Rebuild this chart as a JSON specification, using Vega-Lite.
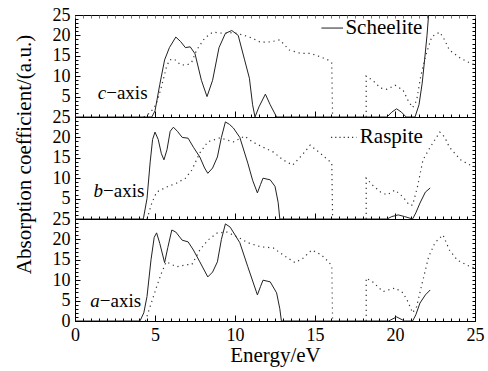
{
  "$schema": "https://vega.github.io/schema/vega-lite/v6.json",
  "padding": {"left": 12, "top": 5, "right": 4, "bottom": 4},
  "spacing": 0,
  "bounds": "flush",
  "config": {
    "font": "Times New Roman, Times, serif",
    "view": {"stroke": "#000", "strokeWidth": 1},
    "concat": {"spacing": 0},
    "text": {"font": "Times New Roman, Times, serif"},
    "axis": {"domain": false, "grid": false, "labelFont": "Times New Roman, Times, serif", "labelFontSize": 18, "labelColor": "#000", "tickColor": "#000", "titleFont": "Times New Roman, Times, serif", "titleFontSize": 21, "titleFontWeight": "normal", "titleColor": "#000", "labelFlush": false, "labelOverlap": false, "tickWidth": 1}
  },
  "datasets": {
    "curves": [
      {"panel":"c","mat":"Scheelite","seg":1,"E":0,"v":0},{"panel":"c","mat":"Scheelite","seg":1,"E":4.8,"v":0},{"panel":"c","mat":"Scheelite","seg":1,"E":5.0,"v":1.5},{"panel":"c","mat":"Scheelite","seg":1,"E":5.3,"v":8},{"panel":"c","mat":"Scheelite","seg":1,"E":5.6,"v":14},{"panel":"c","mat":"Scheelite","seg":1,"E":5.9,"v":17},{"panel":"c","mat":"Scheelite","seg":1,"E":6.3,"v":19.6},{"panel":"c","mat":"Scheelite","seg":1,"E":6.6,"v":18.5},{"panel":"c","mat":"Scheelite","seg":1,"E":6.9,"v":17},{"panel":"c","mat":"Scheelite","seg":1,"E":7.2,"v":17.2},{"panel":"c","mat":"Scheelite","seg":1,"E":7.5,"v":15.5},{"panel":"c","mat":"Scheelite","seg":1,"E":7.9,"v":9},{"panel":"c","mat":"Scheelite","seg":1,"E":8.25,"v":5},{"panel":"c","mat":"Scheelite","seg":1,"E":8.6,"v":9},{"panel":"c","mat":"Scheelite","seg":1,"E":9.0,"v":17},{"panel":"c","mat":"Scheelite","seg":1,"E":9.4,"v":20.5},{"panel":"c","mat":"Scheelite","seg":1,"E":9.8,"v":21.2},{"panel":"c","mat":"Scheelite","seg":1,"E":10.2,"v":20},{"panel":"c","mat":"Scheelite","seg":1,"E":10.6,"v":14},{"panel":"c","mat":"Scheelite","seg":1,"E":10.9,"v":9.5},{"panel":"c","mat":"Scheelite","seg":1,"E":11.1,"v":3},{"panel":"c","mat":"Scheelite","seg":1,"E":11.25,"v":0},{"panel":"c","mat":"Scheelite","seg":1,"E":11.5,"v":2.5},{"panel":"c","mat":"Scheelite","seg":1,"E":11.9,"v":5.6},{"panel":"c","mat":"Scheelite","seg":1,"E":12.2,"v":3},{"panel":"c","mat":"Scheelite","seg":1,"E":12.6,"v":0},{"panel":"c","mat":"Scheelite","seg":1,"E":19.5,"v":0},{"panel":"c","mat":"Scheelite","seg":1,"E":19.8,"v":1.2},{"panel":"c","mat":"Scheelite","seg":1,"E":20.1,"v":2},{"panel":"c","mat":"Scheelite","seg":1,"E":20.4,"v":1.2},{"panel":"c","mat":"Scheelite","seg":1,"E":20.7,"v":0},{"panel":"c","mat":"Scheelite","seg":1,"E":21.25,"v":0},{"panel":"c","mat":"Scheelite","seg":1,"E":21.5,"v":3},{"panel":"c","mat":"Scheelite","seg":1,"E":21.7,"v":8.3},{"panel":"c","mat":"Scheelite","seg":1,"E":21.85,"v":14},{"panel":"c","mat":"Scheelite","seg":1,"E":22.0,"v":20},{"panel":"c","mat":"Scheelite","seg":1,"E":22.1,"v":25},{"panel":"c","mat":"Scheelite","seg":1,"E":22.3,"v":30},
      {"panel":"c","mat":"Raspite","seg":1,"E":4.3,"v":0},{"panel":"c","mat":"Raspite","seg":1,"E":4.6,"v":0.8},{"panel":"c","mat":"Raspite","seg":1,"E":4.9,"v":2},{"panel":"c","mat":"Raspite","seg":1,"E":5.1,"v":3.4},{"panel":"c","mat":"Raspite","seg":1,"E":5.4,"v":7.4},{"panel":"c","mat":"Raspite","seg":1,"E":5.7,"v":12},{"panel":"c","mat":"Raspite","seg":1,"E":5.9,"v":14},{"panel":"c","mat":"Raspite","seg":1,"E":6.2,"v":14.2},{"panel":"c","mat":"Raspite","seg":1,"E":6.6,"v":12.8},{"panel":"c","mat":"Raspite","seg":1,"E":7.0,"v":12.7},{"panel":"c","mat":"Raspite","seg":1,"E":7.3,"v":13.5},{"panel":"c","mat":"Raspite","seg":1,"E":7.6,"v":16.4},{"panel":"c","mat":"Raspite","seg":1,"E":8.1,"v":19.3},{"panel":"c","mat":"Raspite","seg":1,"E":8.6,"v":20.8},{"panel":"c","mat":"Raspite","seg":1,"E":9.3,"v":20.5},{"panel":"c","mat":"Raspite","seg":1,"E":9.9,"v":20.7},{"panel":"c","mat":"Raspite","seg":1,"E":10.5,"v":20.1},{"panel":"c","mat":"Raspite","seg":1,"E":11.1,"v":19.3},{"panel":"c","mat":"Raspite","seg":1,"E":11.6,"v":18.3},{"panel":"c","mat":"Raspite","seg":1,"E":12.2,"v":18.4},{"panel":"c","mat":"Raspite","seg":1,"E":12.8,"v":18.9},{"panel":"c","mat":"Raspite","seg":1,"E":13.4,"v":16.4},{"panel":"c","mat":"Raspite","seg":1,"E":14.1,"v":15.6},{"panel":"c","mat":"Raspite","seg":1,"E":14.7,"v":15.6},{"panel":"c","mat":"Raspite","seg":1,"E":15.3,"v":14.8},{"panel":"c","mat":"Raspite","seg":1,"E":15.8,"v":14},{"panel":"c","mat":"Raspite","seg":1,"E":16.05,"v":13.2},{"panel":"c","mat":"Raspite","seg":1,"E":16.1,"v":0},
      {"panel":"c","mat":"Raspite","seg":2,"E":18.2,"v":0},{"panel":"c","mat":"Raspite","seg":2,"E":18.2,"v":10},{"panel":"c","mat":"Raspite","seg":2,"E":18.6,"v":9},{"panel":"c","mat":"Raspite","seg":2,"E":19.1,"v":7.1},{"panel":"c","mat":"Raspite","seg":2,"E":19.5,"v":6.8},{"panel":"c","mat":"Raspite","seg":2,"E":20.0,"v":7.8},{"panel":"c","mat":"Raspite","seg":2,"E":20.5,"v":6.6},{"panel":"c","mat":"Raspite","seg":2,"E":20.8,"v":4.2},{"panel":"c","mat":"Raspite","seg":2,"E":21.1,"v":2.3},{"panel":"c","mat":"Raspite","seg":2,"E":21.35,"v":4},{"panel":"c","mat":"Raspite","seg":2,"E":21.6,"v":9.8},{"panel":"c","mat":"Raspite","seg":2,"E":21.9,"v":14.8},{"panel":"c","mat":"Raspite","seg":2,"E":22.3,"v":19.7},{"panel":"c","mat":"Raspite","seg":2,"E":22.8,"v":20.8},{"panel":"c","mat":"Raspite","seg":2,"E":23.1,"v":18.9},{"panel":"c","mat":"Raspite","seg":2,"E":23.4,"v":16.4},{"panel":"c","mat":"Raspite","seg":2,"E":24.1,"v":14.4},{"panel":"c","mat":"Raspite","seg":2,"E":24.7,"v":13.2},{"panel":"c","mat":"Raspite","seg":2,"E":25,"v":12.8},
      {"panel":"b","mat":"Scheelite","seg":1,"E":0,"v":0},{"panel":"b","mat":"Scheelite","seg":1,"E":4.27,"v":0},{"panel":"b","mat":"Scheelite","seg":1,"E":4.5,"v":5},{"panel":"b","mat":"Scheelite","seg":1,"E":4.7,"v":14},{"panel":"b","mat":"Scheelite","seg":1,"E":4.85,"v":19.5},{"panel":"b","mat":"Scheelite","seg":1,"E":5.0,"v":21.3},{"panel":"b","mat":"Scheelite","seg":1,"E":5.2,"v":19.5},{"panel":"b","mat":"Scheelite","seg":1,"E":5.4,"v":16},{"panel":"b","mat":"Scheelite","seg":1,"E":5.56,"v":14.5},{"panel":"b","mat":"Scheelite","seg":1,"E":5.75,"v":17},{"panel":"b","mat":"Scheelite","seg":1,"E":5.95,"v":21.5},{"panel":"b","mat":"Scheelite","seg":1,"E":6.15,"v":22.5},{"panel":"b","mat":"Scheelite","seg":1,"E":6.4,"v":21.5},{"panel":"b","mat":"Scheelite","seg":1,"E":6.7,"v":20},{"panel":"b","mat":"Scheelite","seg":1,"E":7.07,"v":19.8},{"panel":"b","mat":"Scheelite","seg":1,"E":7.4,"v":17.6},{"panel":"b","mat":"Scheelite","seg":1,"E":7.8,"v":15.2},{"panel":"b","mat":"Scheelite","seg":1,"E":8.1,"v":12.5},{"panel":"b","mat":"Scheelite","seg":1,"E":8.3,"v":11.2},{"panel":"b","mat":"Scheelite","seg":1,"E":8.6,"v":12.5},{"panel":"b","mat":"Scheelite","seg":1,"E":8.9,"v":15.2},{"panel":"b","mat":"Scheelite","seg":1,"E":9.15,"v":20},{"panel":"b","mat":"Scheelite","seg":1,"E":9.4,"v":23.8},{"panel":"b","mat":"Scheelite","seg":1,"E":9.65,"v":23.2},{"panel":"b","mat":"Scheelite","seg":1,"E":9.9,"v":22.3},{"panel":"b","mat":"Scheelite","seg":1,"E":10.3,"v":20},{"panel":"b","mat":"Scheelite","seg":1,"E":10.8,"v":13.7},{"panel":"b","mat":"Scheelite","seg":1,"E":11.1,"v":9.5},{"panel":"b","mat":"Scheelite","seg":1,"E":11.4,"v":6.4},{"panel":"b","mat":"Scheelite","seg":1,"E":11.6,"v":8.5},{"panel":"b","mat":"Scheelite","seg":1,"E":11.75,"v":10},{"panel":"b","mat":"Scheelite","seg":1,"E":12.2,"v":9.6},{"panel":"b","mat":"Scheelite","seg":1,"E":12.5,"v":8},{"panel":"b","mat":"Scheelite","seg":1,"E":12.7,"v":4},{"panel":"b","mat":"Scheelite","seg":1,"E":12.8,"v":0},{"panel":"b","mat":"Scheelite","seg":1,"E":19.5,"v":0},{"panel":"b","mat":"Scheelite","seg":1,"E":19.8,"v":0.6},{"panel":"b","mat":"Scheelite","seg":1,"E":20.2,"v":1},{"panel":"b","mat":"Scheelite","seg":1,"E":20.6,"v":0.6},{"panel":"b","mat":"Scheelite","seg":1,"E":21.1,"v":0},{"panel":"b","mat":"Scheelite","seg":1,"E":21.3,"v":1.5},{"panel":"b","mat":"Scheelite","seg":1,"E":21.56,"v":3.9},{"panel":"b","mat":"Scheelite","seg":1,"E":21.9,"v":6.6},{"panel":"b","mat":"Scheelite","seg":1,"E":22.2,"v":7.6},
      {"panel":"b","mat":"Raspite","seg":1,"E":4.5,"v":0},{"panel":"b","mat":"Raspite","seg":1,"E":4.8,"v":3.9},{"panel":"b","mat":"Raspite","seg":1,"E":5.1,"v":6.6},{"panel":"b","mat":"Raspite","seg":1,"E":5.7,"v":7.8},{"panel":"b","mat":"Raspite","seg":1,"E":6.35,"v":8.8},{"panel":"b","mat":"Raspite","seg":1,"E":6.9,"v":10},{"panel":"b","mat":"Raspite","seg":1,"E":7.3,"v":12},{"panel":"b","mat":"Raspite","seg":1,"E":7.8,"v":16.2},{"panel":"b","mat":"Raspite","seg":1,"E":8.3,"v":18.9},{"panel":"b","mat":"Raspite","seg":1,"E":9.06,"v":19.9},{"panel":"b","mat":"Raspite","seg":1,"E":9.9,"v":18.9},{"panel":"b","mat":"Raspite","seg":1,"E":10.6,"v":20.3},{"panel":"b","mat":"Raspite","seg":1,"E":11.1,"v":18.9},{"panel":"b","mat":"Raspite","seg":1,"E":11.75,"v":17.6},{"panel":"b","mat":"Raspite","seg":1,"E":12.4,"v":16.4},{"panel":"b","mat":"Raspite","seg":1,"E":13.0,"v":14.5},{"panel":"b","mat":"Raspite","seg":1,"E":13.6,"v":13.2},{"panel":"b","mat":"Raspite","seg":1,"E":14.2,"v":15.7},{"panel":"b","mat":"Raspite","seg":1,"E":14.7,"v":18.1},{"panel":"b","mat":"Raspite","seg":1,"E":15.3,"v":16.2},{"panel":"b","mat":"Raspite","seg":1,"E":15.8,"v":14.5},{"panel":"b","mat":"Raspite","seg":1,"E":16.05,"v":13.7},{"panel":"b","mat":"Raspite","seg":1,"E":16.1,"v":0},
      {"panel":"b","mat":"Raspite","seg":2,"E":18.2,"v":0},{"panel":"b","mat":"Raspite","seg":2,"E":18.2,"v":10},{"panel":"b","mat":"Raspite","seg":2,"E":18.6,"v":8.3},{"panel":"b","mat":"Raspite","seg":2,"E":19.1,"v":6.6},{"panel":"b","mat":"Raspite","seg":2,"E":19.5,"v":5.9},{"panel":"b","mat":"Raspite","seg":2,"E":20.0,"v":7.1},{"panel":"b","mat":"Raspite","seg":2,"E":20.5,"v":5.4},{"panel":"b","mat":"Raspite","seg":2,"E":20.9,"v":3.4},{"panel":"b","mat":"Raspite","seg":2,"E":21.1,"v":3.4},{"panel":"b","mat":"Raspite","seg":2,"E":21.4,"v":7.8},{"panel":"b","mat":"Raspite","seg":2,"E":21.75,"v":14.5},{"panel":"b","mat":"Raspite","seg":2,"E":22.2,"v":17.6},{"panel":"b","mat":"Raspite","seg":2,"E":22.8,"v":21.3},{"panel":"b","mat":"Raspite","seg":2,"E":23.1,"v":20.1},{"panel":"b","mat":"Raspite","seg":2,"E":23.4,"v":17.6},{"panel":"b","mat":"Raspite","seg":2,"E":24.1,"v":14.5},{"panel":"b","mat":"Raspite","seg":2,"E":24.7,"v":13.2},{"panel":"b","mat":"Raspite","seg":2,"E":25,"v":12.8},
      {"panel":"a","mat":"Scheelite","seg":1,"E":0,"v":0},{"panel":"a","mat":"Scheelite","seg":1,"E":4.06,"v":0},{"panel":"a","mat":"Scheelite","seg":1,"E":4.3,"v":2},{"panel":"a","mat":"Scheelite","seg":1,"E":4.5,"v":6},{"panel":"a","mat":"Scheelite","seg":1,"E":4.75,"v":15},{"panel":"a","mat":"Scheelite","seg":1,"E":4.95,"v":20.5},{"panel":"a","mat":"Scheelite","seg":1,"E":5.1,"v":21.6},{"panel":"a","mat":"Scheelite","seg":1,"E":5.3,"v":19},{"panel":"a","mat":"Scheelite","seg":1,"E":5.6,"v":14.3},{"panel":"a","mat":"Scheelite","seg":1,"E":5.8,"v":18},{"panel":"a","mat":"Scheelite","seg":1,"E":6.05,"v":22.3},{"panel":"a","mat":"Scheelite","seg":1,"E":6.3,"v":21.8},{"panel":"a","mat":"Scheelite","seg":1,"E":6.7,"v":19.8},{"panel":"a","mat":"Scheelite","seg":1,"E":7.07,"v":19.4},{"panel":"a","mat":"Scheelite","seg":1,"E":7.4,"v":17.4},{"panel":"a","mat":"Scheelite","seg":1,"E":7.8,"v":14.5},{"panel":"a","mat":"Scheelite","seg":1,"E":8.3,"v":10.8},{"panel":"a","mat":"Scheelite","seg":1,"E":8.6,"v":12},{"panel":"a","mat":"Scheelite","seg":1,"E":8.9,"v":14.5},{"panel":"a","mat":"Scheelite","seg":1,"E":9.15,"v":20},{"panel":"a","mat":"Scheelite","seg":1,"E":9.4,"v":23.8},{"panel":"a","mat":"Scheelite","seg":1,"E":9.7,"v":23},{"panel":"a","mat":"Scheelite","seg":1,"E":10.3,"v":19.2},{"panel":"a","mat":"Scheelite","seg":1,"E":10.8,"v":13.3},{"panel":"a","mat":"Scheelite","seg":1,"E":11.4,"v":6.4},{"panel":"a","mat":"Scheelite","seg":1,"E":11.6,"v":8.5},{"panel":"a","mat":"Scheelite","seg":1,"E":11.75,"v":10},{"panel":"a","mat":"Scheelite","seg":1,"E":12.2,"v":9.6},{"panel":"a","mat":"Scheelite","seg":1,"E":12.6,"v":6.9},{"panel":"a","mat":"Scheelite","seg":1,"E":12.8,"v":3},{"panel":"a","mat":"Scheelite","seg":1,"E":12.9,"v":0},{"panel":"a","mat":"Scheelite","seg":1,"E":19.6,"v":0},{"panel":"a","mat":"Scheelite","seg":1,"E":20.1,"v":1},{"panel":"a","mat":"Scheelite","seg":1,"E":20.6,"v":0},{"panel":"a","mat":"Scheelite","seg":1,"E":21.1,"v":0},{"panel":"a","mat":"Scheelite","seg":1,"E":21.3,"v":1.5},{"panel":"a","mat":"Scheelite","seg":1,"E":21.56,"v":4.4},{"panel":"a","mat":"Scheelite","seg":1,"E":21.9,"v":6.4},{"panel":"a","mat":"Scheelite","seg":1,"E":22.2,"v":7.6},
      {"panel":"a","mat":"Raspite","seg":1,"E":4.4,"v":0},{"panel":"a","mat":"Raspite","seg":1,"E":4.8,"v":4.8},{"panel":"a","mat":"Raspite","seg":1,"E":5.1,"v":8.4},{"panel":"a","mat":"Raspite","seg":1,"E":5.4,"v":11.7},{"panel":"a","mat":"Raspite","seg":1,"E":5.7,"v":14.5},{"panel":"a","mat":"Raspite","seg":1,"E":6.35,"v":13.3},{"panel":"a","mat":"Raspite","seg":1,"E":7.0,"v":13.8},{"panel":"a","mat":"Raspite","seg":1,"E":7.3,"v":13.8},{"panel":"a","mat":"Raspite","seg":1,"E":7.8,"v":17.4},{"panel":"a","mat":"Raspite","seg":1,"E":8.3,"v":19.8},{"panel":"a","mat":"Raspite","seg":1,"E":8.9,"v":21.6},{"panel":"a","mat":"Raspite","seg":1,"E":9.5,"v":21.8},{"panel":"a","mat":"Raspite","seg":1,"E":10.3,"v":20.3},{"panel":"a","mat":"Raspite","seg":1,"E":10.8,"v":19.2},{"panel":"a","mat":"Raspite","seg":1,"E":11.6,"v":18.2},{"panel":"a","mat":"Raspite","seg":1,"E":12.4,"v":17.9},{"panel":"a","mat":"Raspite","seg":1,"E":13.0,"v":16.2},{"panel":"a","mat":"Raspite","seg":1,"E":13.75,"v":14.3},{"panel":"a","mat":"Raspite","seg":1,"E":14.25,"v":15.4},{"panel":"a","mat":"Raspite","seg":1,"E":14.8,"v":17.4},{"panel":"a","mat":"Raspite","seg":1,"E":15.4,"v":16.2},{"panel":"a","mat":"Raspite","seg":1,"E":15.9,"v":14.3},{"panel":"a","mat":"Raspite","seg":1,"E":16.05,"v":13.3},{"panel":"a","mat":"Raspite","seg":1,"E":16.1,"v":0},
      {"panel":"a","mat":"Raspite","seg":2,"E":18.2,"v":0},{"panel":"a","mat":"Raspite","seg":2,"E":18.2,"v":10.5},{"panel":"a","mat":"Raspite","seg":2,"E":18.6,"v":9.6},{"panel":"a","mat":"Raspite","seg":2,"E":19.25,"v":7.2},{"panel":"a","mat":"Raspite","seg":2,"E":20.0,"v":8.1},{"panel":"a","mat":"Raspite","seg":2,"E":20.5,"v":6.9},{"panel":"a","mat":"Raspite","seg":2,"E":20.8,"v":4.8},{"panel":"a","mat":"Raspite","seg":2,"E":21.1,"v":2},{"panel":"a","mat":"Raspite","seg":2,"E":21.35,"v":3.5},{"panel":"a","mat":"Raspite","seg":2,"E":21.7,"v":9.3},{"panel":"a","mat":"Raspite","seg":2,"E":22.1,"v":15.7},{"panel":"a","mat":"Raspite","seg":2,"E":22.5,"v":19.2},{"panel":"a","mat":"Raspite","seg":2,"E":23.0,"v":21.1},{"panel":"a","mat":"Raspite","seg":2,"E":23.4,"v":17.4},{"panel":"a","mat":"Raspite","seg":2,"E":23.9,"v":14.9},{"panel":"a","mat":"Raspite","seg":2,"E":24.7,"v":13.3},{"panel":"a","mat":"Raspite","seg":2,"E":25,"v":13}
    ]
  },
  "vconcat": [
    {
      "width": 400, "height": 102,
      "resolve": {"axis": {"x": "independent", "y": "independent"}},
      "layer": [
        {
          "data": {"name": "curves"},
          "transform": [{"filter": "datum.panel === 'c' && datum.mat === 'Scheelite'"}],
          "mark": {"type": "line", "clip": true, "stroke": "#222", "strokeWidth": 1},
          "encoding": {
            "x": {"field": "E", "type": "quantitative", "scale": {"domain": [0, 25], "nice": false}, "axis": {"orient": "bottom", "title": null, "labels": false, "values": [0,5,10,15,20,25], "tickSize": 6, "offset": -6}},
            "y": {"field": "v", "type": "quantitative", "scale": {"domain": [0, 25], "nice": false}, "axis": {"orient": "left", "title": null, "values": [0,5,10,15,20,25], "labelExpr": "datum.value > 0 ? datum.label : ''", "labelPadding": 5, "tickSize": 5, "offset": -5, "labelFont": "Times New Roman, Times, serif"}},
            "detail": {"field": "seg"},
            "order": {"value": null}
          }
        },
        {
          "data": {"name": "curves"},
          "transform": [{"filter": "datum.panel === 'c' && datum.mat === 'Raspite'"}],
          "mark": {"type": "line", "clip": true, "stroke": "#333", "strokeWidth": 1.2, "strokeDash": [1.2, 3.8]},
          "encoding": {
            "x": {"field": "E", "type": "quantitative", "scale": {"domain": [0, 25], "nice": false}, "axis": {"orient": "bottom", "title": null, "labels": false, "values": [0,0.5,1,1.5,2,2.5,3,3.5,4,4.5,5,5.5,6,6.5,7,7.5,8,8.5,9,9.5,10,10.5,11,11.5,12,12.5,13,13.5,14,14.5,15,15.5,16,16.5,17,17.5,18,18.5,19,19.5,20,20.5,21,21.5,22,22.5,23,23.5,24,24.5,25], "tickSize": 3, "offset": -3}},
            "y": {"field": "v", "type": "quantitative", "scale": {"domain": [0, 25], "nice": false}, "axis": {"orient": "left", "title": null, "labels": false, "values": [0,1,2,3,4,5,6,7,8,9,10,11,12,13,14,15,16,17,18,19,20,21,22,23,24,25], "tickSize": 3, "offset": -3}},
            "detail": {"field": "seg"},
            "order": {"value": null}
          }
        },
        {
          "data": {"values": [{}]},
          "mark": {"type": "text", "align": "right", "baseline": "middle", "fontSize": 19, "fontStyle": "italic", "font": "Times New Roman, Times, serif", "text": "c"},
          "encoding": {
            "x": {"datum": 1.95, "type": "quantitative", "axis": {"orient": "top", "title": null, "labels": false, "values": [0,0.5,1,1.5,2,2.5,3,3.5,4,4.5,5,5.5,6,6.5,7,7.5,8,8.5,9,9.5,10,10.5,11,11.5,12,12.5,13,13.5,14,14.5,15,15.5,16,16.5,17,17.5,18,18.5,19,19.5,20,20.5,21,21.5,22,22.5,23,23.5,24,24.5,25], "tickSize": 3, "offset": -3, "tickColor": "#777"}},
            "y": {"datum": 6, "type": "quantitative", "axis": {"orient": "right", "title": null, "labels": false, "values": [0,1,2,3,4,5,6,7,8,9,10,11,12,13,14,15,16,17,18,19,20,21,22,23,24,25], "tickSize": 3, "offset": -3}}
          }
        },
        {
          "data": {"values": [{}]},
          "mark": {"type": "text", "align": "left", "baseline": "middle", "fontSize": 19, "font": "Times New Roman, Times, serif", "text": "−axis"},
          "encoding": {"x": {"datum": 1.95, "type": "quantitative", "axis": null}, "y": {"datum": 6, "type": "quantitative", "axis": null}}
        },
        {
          "data": {"values": [{}]},
          "mark": {"type": "rule", "stroke": "#222", "strokeWidth": 1},
          "encoding": {"x": {"datum": 15.4, "type": "quantitative", "axis": null}, "x2": {"datum": 16.75}, "y": {"datum": 21.8, "type": "quantitative", "axis": null}}
        },
        {
          "data": {"values": [{}]},
          "mark": {"type": "text", "align": "left", "baseline": "middle", "fontSize": 21, "font": "Times New Roman, Times, serif", "text": "Scheelite"},
          "encoding": {"x": {"datum": 16.9, "type": "quantitative", "axis": null}, "y": {"datum": 21.8, "type": "quantitative", "axis": null}}
        }
      ]
    },
    {
      "width": 400, "height": 102,
      "resolve": {"axis": {"x": "independent", "y": "independent"}},
      "layer": [
        {
          "data": {"name": "curves"},
          "transform": [{"filter": "datum.panel === 'b' && datum.mat === 'Scheelite'"}],
          "mark": {"type": "line", "clip": true, "stroke": "#222", "strokeWidth": 1},
          "encoding": {
            "x": {"field": "E", "type": "quantitative", "scale": {"domain": [0, 25], "nice": false}, "axis": {"orient": "bottom", "title": null, "labels": false, "values": [0,5,10,15,20,25], "tickSize": 6, "offset": -6}},
            "y": {"field": "v", "type": "quantitative", "scale": {"domain": [0, 25], "nice": false}, "axis": {"orient": "left", "title": "Absorption coefficient/(a.u.)", "titlePadding": 18, "titleY": 37, "values": [0,5,10,15,20,25], "labelExpr": "datum.value > 0 ? datum.label : ''", "labelPadding": 5, "tickSize": 5, "offset": -5, "labelFont": "Times New Roman, Times, serif"}},
            "detail": {"field": "seg"},
            "order": {"value": null}
          }
        },
        {
          "data": {"name": "curves"},
          "transform": [{"filter": "datum.panel === 'b' && datum.mat === 'Raspite'"}],
          "mark": {"type": "line", "clip": true, "stroke": "#333", "strokeWidth": 1.2, "strokeDash": [1.2, 3.8]},
          "encoding": {
            "x": {"field": "E", "type": "quantitative", "scale": {"domain": [0, 25], "nice": false}, "axis": {"orient": "bottom", "title": null, "labels": false, "values": [0,0.5,1,1.5,2,2.5,3,3.5,4,4.5,5,5.5,6,6.5,7,7.5,8,8.5,9,9.5,10,10.5,11,11.5,12,12.5,13,13.5,14,14.5,15,15.5,16,16.5,17,17.5,18,18.5,19,19.5,20,20.5,21,21.5,22,22.5,23,23.5,24,24.5,25], "tickSize": 3, "offset": -3}},
            "y": {"field": "v", "type": "quantitative", "scale": {"domain": [0, 25], "nice": false}, "axis": {"orient": "left", "title": null, "labels": false, "values": [0,1,2,3,4,5,6,7,8,9,10,11,12,13,14,15,16,17,18,19,20,21,22,23,24,25], "tickSize": 3, "offset": -3}},
            "detail": {"field": "seg"},
            "order": {"value": null}
          }
        },
        {
          "data": {"values": [{}]},
          "mark": {"type": "text", "align": "right", "baseline": "middle", "fontSize": 19, "fontStyle": "italic", "font": "Times New Roman, Times, serif", "text": "b"},
          "encoding": {
            "x": {"datum": 1.75, "type": "quantitative", "axis": null},
            "y": {"datum": 6.9, "type": "quantitative", "axis": {"orient": "right", "title": null, "labels": false, "values": [0,1,2,3,4,5,6,7,8,9,10,11,12,13,14,15,16,17,18,19,20,21,22,23,24,25], "tickSize": 3, "offset": -3}}
          }
        },
        {
          "data": {"values": [{}]},
          "mark": {"type": "text", "align": "left", "baseline": "middle", "fontSize": 19, "font": "Times New Roman, Times, serif", "text": "−axis"},
          "encoding": {"x": {"datum": 1.75, "type": "quantitative", "axis": null}, "y": {"datum": 6.9, "type": "quantitative", "axis": null}}
        },
        {
          "data": {"values": [{}]},
          "mark": {"type": "rule", "stroke": "#333", "strokeWidth": 1.2, "strokeDash": [1.2, 3]},
          "encoding": {"x": {"datum": 16.0, "type": "quantitative", "axis": null}, "x2": {"datum": 17.6}, "y": {"datum": 20, "type": "quantitative", "axis": null}}
        },
        {
          "data": {"values": [{}]},
          "mark": {"type": "text", "align": "left", "baseline": "middle", "fontSize": 21, "font": "Times New Roman, Times, serif", "text": "Raspite"},
          "encoding": {"x": {"datum": 17.8, "type": "quantitative", "axis": null}, "y": {"datum": 20, "type": "quantitative", "axis": null}}
        }
      ]
    },
    {
      "width": 400, "height": 102,
      "resolve": {"axis": {"x": "independent", "y": "independent"}},
      "layer": [
        {
          "data": {"name": "curves"},
          "transform": [{"filter": "datum.panel === 'a' && datum.mat === 'Scheelite'"}],
          "mark": {"type": "line", "clip": true, "stroke": "#222", "strokeWidth": 1},
          "encoding": {
            "x": {"field": "E", "type": "quantitative", "scale": {"domain": [0, 25], "nice": false}, "axis": {"orient": "bottom", "title": "Energy/eV", "titlePadding": 0, "labelPadding": 5, "values": [0,5,10,15,20,25], "format": "d", "tickSize": 6, "offset": -6, "labelFont": "Times New Roman, Times, serif"}},
            "y": {"field": "v", "type": "quantitative", "scale": {"domain": [0, 25], "nice": false}, "axis": {"orient": "left", "title": null, "values": [0,5,10,15,20,25], "labelPadding": 5, "tickSize": 5, "offset": -5, "labelFont": "Times New Roman, Times, serif"}},
            "detail": {"field": "seg"},
            "order": {"value": null}
          }
        },
        {
          "data": {"name": "curves"},
          "transform": [{"filter": "datum.panel === 'a' && datum.mat === 'Raspite'"}],
          "mark": {"type": "line", "clip": true, "stroke": "#333", "strokeWidth": 1.2, "strokeDash": [1.2, 3.8]},
          "encoding": {
            "x": {"field": "E", "type": "quantitative", "scale": {"domain": [0, 25], "nice": false}, "axis": {"orient": "bottom", "title": null, "labels": false, "values": [0,0.5,1,1.5,2,2.5,3,3.5,4,4.5,5,5.5,6,6.5,7,7.5,8,8.5,9,9.5,10,10.5,11,11.5,12,12.5,13,13.5,14,14.5,15,15.5,16,16.5,17,17.5,18,18.5,19,19.5,20,20.5,21,21.5,22,22.5,23,23.5,24,24.5,25], "tickSize": 3, "offset": -3}},
            "y": {"field": "v", "type": "quantitative", "scale": {"domain": [0, 25], "nice": false}, "axis": {"orient": "left", "title": null, "labels": false, "values": [0,1,2,3,4,5,6,7,8,9,10,11,12,13,14,15,16,17,18,19,20,21,22,23,24,25], "tickSize": 3, "offset": -3}},
            "detail": {"field": "seg"},
            "order": {"value": null}
          }
        },
        {
          "data": {"values": [{}]},
          "mark": {"type": "text", "align": "right", "baseline": "middle", "fontSize": 19, "fontStyle": "italic", "font": "Times New Roman, Times, serif", "text": "a"},
          "encoding": {
            "x": {"datum": 1.55, "type": "quantitative", "axis": null},
            "y": {"datum": 5, "type": "quantitative", "axis": {"orient": "right", "title": null, "labels": false, "values": [0,1,2,3,4,5,6,7,8,9,10,11,12,13,14,15,16,17,18,19,20,21,22,23,24,25], "tickSize": 3, "offset": -3}}
          }
        },
        {
          "data": {"values": [{}]},
          "mark": {"type": "text", "align": "left", "baseline": "middle", "fontSize": 19, "font": "Times New Roman, Times, serif", "text": "−axis"},
          "encoding": {"x": {"datum": 1.55, "type": "quantitative", "axis": null}, "y": {"datum": 5, "type": "quantitative", "axis": null}}
        }
      ]
    }
  ]
}
